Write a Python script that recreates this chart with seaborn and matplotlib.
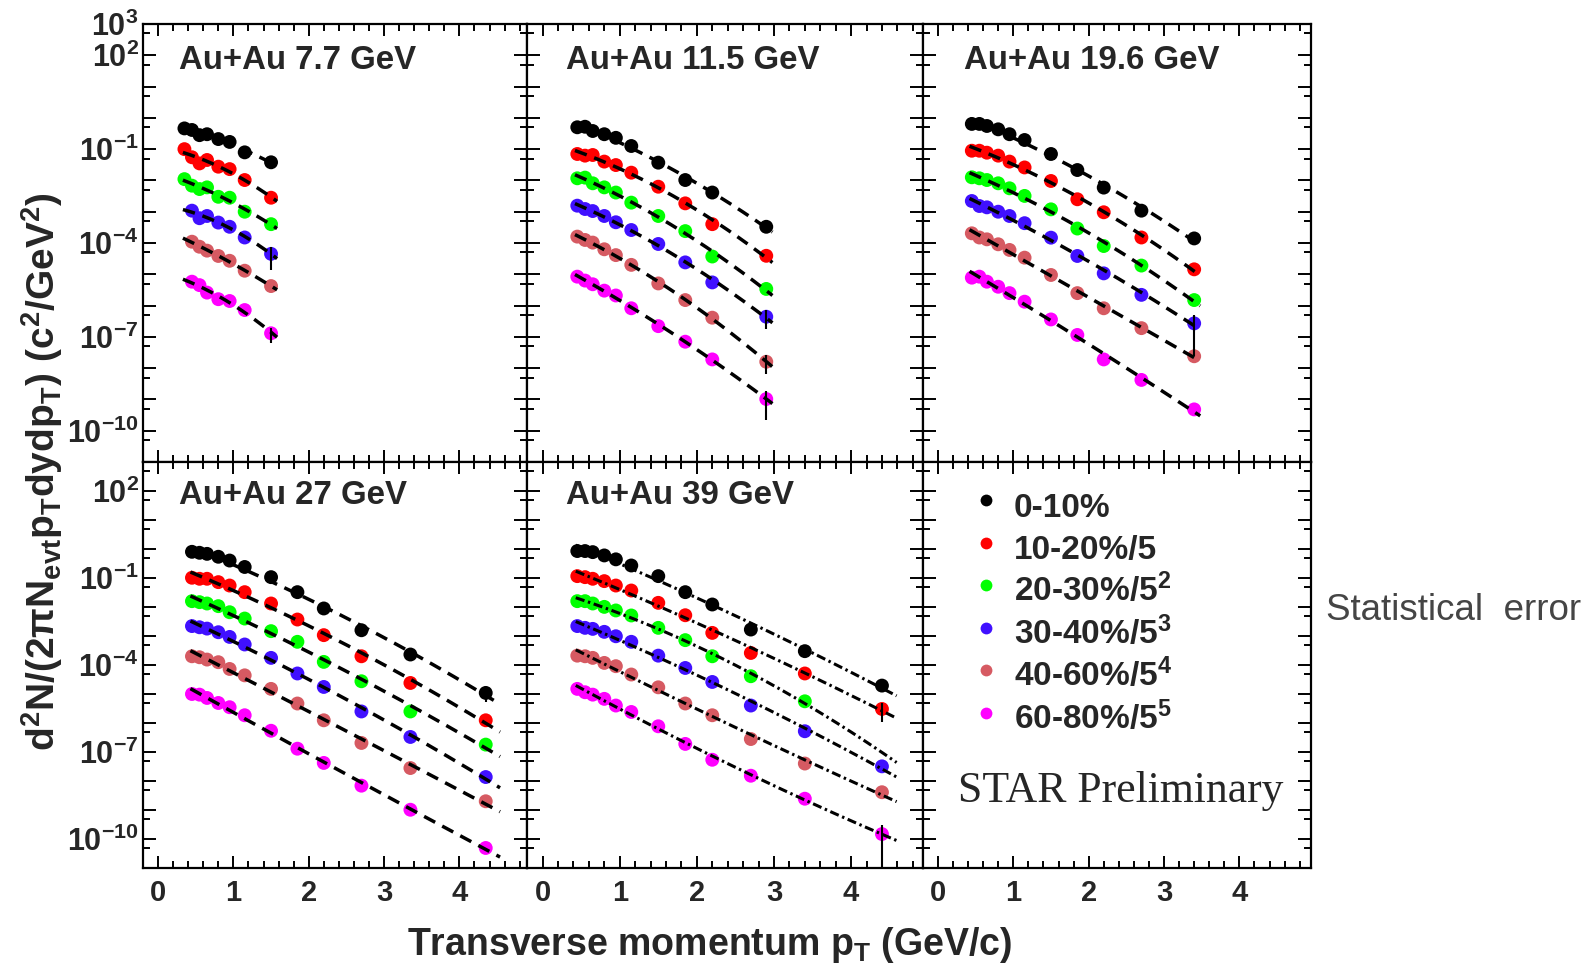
import numpy as np
import pandas as pd
import matplotlib
matplotlib.use("Agg")
import matplotlib.pyplot as plt
import seaborn as sns
from matplotlib.ticker import LogLocator, MultipleLocator, FuncFormatter
from matplotlib.lines import Line2D
from matplotlib import font_manager

# ---------------- data ----------------
ENERGIES = ["7.7", "11.5", "19.6", "27", "39"]
CENT_LABELS = ["0-10%", "10-20%/5", "20-30%/5$^{2}$", "30-40%/5$^{3}$",
               "40-60%/5$^{4}$", "60-80%/5$^{5}$"]
COLORS = ["#000000", "#ff0000", "#00ff00", "#4010ff", "#d65a62", "#ff00ff"]
nan = np.nan

PT_7 = [0.35, 0.45, 0.55, 0.65, 0.8, 0.95, 1.15, 1.5]
Y_7 = [
    [4.6e-1, 4.1e-1, 2.8e-1, 3.0e-1, 2.1e-1, 1.7e-1, 7.9e-2, 3.8e-2],
    [1.0e-1, 5.5e-2, 3.5e-2, 4.5e-2, 2.75e-2, 2.3e-2, 1.03e-2, 2.8e-3],
    [1.1e-2, 6.8e-3, 5.3e-3, 6.0e-3, 3.0e-3, 2.8e-3, 1.0e-3, 4.0e-4],
    [nan, 1.08e-3, 6.2e-4, 7.3e-4, 4.5e-4, 3.3e-4, 1.5e-4, 4.5e-5],
    [nan, 1.1e-4, 7.6e-5, 5.7e-5, 3.85e-5, 2.7e-5, 1.3e-5, 4.2e-6],
    [nan, 5.8e-6, 4.5e-6, 2.6e-6, 1.6e-6, 1.4e-6, 7.2e-7, 1.3e-7],
]

PT_11 = [0.45, 0.55, 0.65, 0.8, 0.95, 1.15, 1.5, 1.85, 2.2, 2.9]
Y_11 = [
    [5.0e-1, 5.2e-1, 3.8e-1, 3.0e-1, 2.3e-1, 1.26e-1, 3.7e-2, 1.03e-2, 4.1e-3, 3.3e-4],
    [7.0e-2, 6.2e-2, 6.5e-2, 4.0e-2, 3.1e-2, 1.77e-2, 6.3e-3, 1.85e-3, 4.0e-4, 3.9e-5],
    [1.17e-2, 1.23e-2, 8.1e-3, 6.0e-3, 4.1e-3, 1.95e-3, 7.3e-4, 2.4e-4, 3.7e-5, 3.4e-6],
    [1.56e-3, 1.22e-3, 1.05e-3, 7.3e-4, 4.6e-4, 2.6e-4, 9.3e-5, 2.4e-5, 5.5e-6, 4.4e-7],
    [1.6e-4, 1.25e-4, 1.03e-4, 6.3e-5, 4.1e-5, 2.0e-5, 5.1e-6, 1.5e-6, 4.1e-7, 1.6e-8],
    [8.4e-6, 6.3e-6, 4.8e-6, 3.0e-6, 2.1e-6, 8.2e-7, 2.2e-7, 7.0e-8, 1.9e-8, 1.03e-9],
]

PT_19 = [0.45, 0.55, 0.65, 0.8, 0.95, 1.15, 1.5, 1.85, 2.2, 2.7, 3.4]
Y_19 = [
    [6.4e-1, 6.4e-1, 5.5e-1, 4.3e-1, 3.0e-1, 1.96e-1, 7.0e-2, 2.15e-2, 5.9e-3, 1.08e-3, 1.4e-4],
    [8.9e-2, 8.9e-2, 7.7e-2, 6.2e-2, 4.0e-2, 2.6e-2, 9.6e-3, 2.5e-3, 9.6e-4, 1.5e-4, 1.44e-5],
    [1.26e-2, 1.17e-2, 1.03e-2, 8.1e-3, 5.6e-3, 3.2e-3, 1.19e-3, 2.9e-4, 8.0e-5, 1.9e-5, 1.5e-6],
    [2.2e-3, 1.52e-3, 1.38e-3, 1.0e-3, 7.3e-4, 4.3e-4, 1.48e-4, 3.85e-5, 1.07e-5, 2.2e-6, 2.7e-7],
    [2.04e-4, 1.5e-4, 1.31e-4, 9.1e-5, 6.0e-5, 3.4e-5, 9.5e-6, 2.5e-6, 8.2e-7, 1.9e-7, 2.4e-8],
    [7.8e-6, 8.4e-6, 5.8e-6, 4.0e-6, 2.5e-6, 1.33e-6, 3.6e-7, 1.15e-7, 1.9e-8, 4.2e-9, 4.8e-10],
]

PT_27 = [0.45, 0.55, 0.65, 0.8, 0.95, 1.15, 1.5, 1.85, 2.2, 2.7, 3.35, 4.35]
Y_27 = [
    [8.0e-1, 7.4e-1, 6.8e-1, 5.4e-1, 4.0e-1, 2.4e-1, 1.07e-1, 3.25e-2, 8.9e-3, 1.58e-3, 2.3e-4, 1.09e-5],
    [1.02e-1, 9.4e-2, 9.4e-2, 7.2e-2, 5.5e-2, 3.25e-2, 1.32e-2, 3.7e-3, 1.07e-3, 2.0e-4, 2.4e-5, 1.24e-6],
    [1.59e-2, 1.47e-2, 1.32e-2, 1.07e-2, 6.6e-3, 4.0e-3, 1.47e-3, 6.3e-4, 1.28e-4, 2.75e-5, 2.5e-6, 1.8e-7],
    [2.2e-3, 2.0e-3, 1.8e-3, 1.35e-3, 9.3e-4, 5.1e-4, 1.76e-4, 5.1e-5, 1.75e-5, 2.5e-6, 3.3e-7, 1.37e-8],
    [2.0e-4, 1.85e-4, 1.54e-4, 1.25e-4, 7.3e-5, 4.4e-5, 1.5e-5, 4.7e-6, 1.24e-6, 2.05e-7, 2.8e-8, 2.0e-9],
    [1.0e-5, 9.5e-6, 7.3e-6, 4.9e-6, 3.5e-6, 1.85e-6, 5.4e-7, 1.3e-7, 4.2e-8, 6.9e-9, 1.02e-9, 4.9e-11],
]

PT_39 = [0.45, 0.55, 0.65, 0.8, 0.95, 1.15, 1.5, 1.85, 2.2, 2.7, 3.4, 4.4]
Y_39 = [
    [8.5e-1, 8.5e-1, 7.8e-1, 6.0e-1, 4.4e-1, 2.7e-1, 1.16e-1, 3.25e-2, 1.22e-2, 1.67e-3, 3.0e-4, 1.95e-5],
    [1.16e-1, 1.07e-1, 9.4e-2, 7.8e-2, 5.5e-2, 3.7e-2, 1.39e-2, 5.2e-3, 1.28e-3, 2.6e-4, 5.1e-5, 3.05e-6],
    [1.59e-2, 1.59e-2, 1.32e-2, 1.01e-2, 7.6e-3, 5.1e-3, 1.91e-3, 7.2e-4, 2.0e-4, 4.1e-5, 5.6e-6, nan],
    [2.2e-3, 1.91e-3, 1.76e-3, 1.39e-3, 9.8e-4, 6.3e-4, 2.1e-4, 7.9e-5, 2.6e-5, 4.0e-6, 5.2e-7, 3.2e-8],
    [2.1e-4, 2.0e-4, 1.76e-4, 1.18e-4, 9.1e-5, 4.7e-5, 1.7e-5, 4.7e-6, 1.85e-6, 2.8e-7, 4.0e-8, 4.1e-9],
    [1.5e-5, 1.15e-5, 9.5e-6, 6.8e-6, 4.0e-6, 2.4e-6, 7.7e-7, 1.9e-7, 5.4e-8, 1.52e-8, 2.45e-9, 1.48e-10],
]

PANEL_PT = [PT_7, PT_11, PT_19, PT_27, PT_39]
PANEL_Y = [Y_7, Y_11, Y_19, Y_27, Y_39]

# fit ranges (pT) of the dashed curves
FIT_START = [0.33, 0.42, 0.42, 0.43, 0.43]
FIT_END = [1.58, 2.98, 3.48, 4.54, 4.59]

# statistical errors shown: (panel, centrality, point index, relative error)
ERR_PANEL = [0, 0, 1, 1, 1, 2, 3, 4, 4]
ERR_CENT = [3, 5, 3, 4, 5, 3, 0, 1, 5]
ERR_POINT = [7, 7, 9, 9, 9, 10, 11, 11, 11]
ERR_REL = [0.69, 0.51, 0.6, 0.6, 0.79, 0.91, 0.5, 0.65, 0.9999]

YLABEL_EXP_TOP = [3, 2, -1, -4, -7, -10]
YLABEL_EXP_BOTTOM = [2, -1, -4, -7, -10]

# ---------------- style ----------------
sns.set_theme(style="ticks")
plt.rcParams["font.family"] = ["Liberation Sans", "DejaVu Sans"]
plt.rcParams["font.weight"] = "bold"
plt.rcParams["mathtext.fontset"] = "custom"
plt.rcParams["mathtext.rm"] = "Liberation Sans:bold"
plt.rcParams["mathtext.it"] = "Liberation Sans:bold"
plt.rcParams["mathtext.bf"] = "Liberation Sans:bold"
plt.rcParams["mathtext.default"] = "bf"

try:
    font_manager.findfont(font_manager.FontProperties(family="Liberation Sans Narrow"),
                          fallback_to_default=False)
    NARROW = "Liberation Sans Narrow"
    NARROW_SIZE = 32
except Exception:
    NARROW = "Liberation Sans"
    NARROW_SIZE = 26.5

W, H = 1593, 972
fig = plt.figure(figsize=(W / 100, H / 100), dpi=100)
gs = fig.add_gridspec(2, 3, left=143 / W, right=1311 / W, top=1 - 24 / H, bottom=1 - 868 / H,
                      wspace=0, hspace=0, width_ratios=[384, 395.5, 388], height_ratios=[438, 406])
XLIMS = [(-0.2, 4.9), (-0.2, 4.93), (-0.2, 4.95)]
TITLE_X = [0.094, 0.099, 0.106, 0.094, 0.099]

axes = []
for r in range(2):
    for c in range(3):
        ax = fig.add_subplot(gs[r, c])
        axes.append(ax)

# ---------------- panels ----------------
for p in range(5):
    ax = axes[p]
    pt = np.array(PANEL_PT[p])
    rows = []
    for k, ys in enumerate(PANEL_Y[p]):
        for x, y in zip(pt, ys):
            if np.isfinite(y):
                rows.append({"pt": x, "y": y, "cent": CENT_LABELS[k]})
    df = pd.DataFrame(rows)
    sns.scatterplot(data=df, x="pt", y="y", hue="cent", hue_order=CENT_LABELS,
                    palette=COLORS, s=100, edgecolor="none", linewidth=0,
                    legend=False, ax=ax, zorder=2)

    # statistical error bars
    for i in range(len(ERR_PANEL)):
        if ERR_PANEL[i] != p:
            continue
        yv = PANEL_Y[p][ERR_CENT[i]][ERR_POINT[i]]
        xv = pt[ERR_POINT[i]]
        rel = ERR_REL[i]
        ax.errorbar([xv], [yv], yerr=[[yv * rel], [yv * rel]], fmt="none",
                    ecolor="black", elinewidth=1.5, capsize=0, zorder=2.5)

    # fitted curves
    if p < 4:
        ls = (0, (3.6, 2.3))
        lw = 2.5
    else:
        ls = (0, (3.0, 1.2, 0.8, 1.2))
        lw = 2.2
    for k, ys in enumerate(PANEL_Y[p]):
        ys = np.array(ys, dtype=float)
        m = np.isfinite(ys)
        coef = np.polyfit(pt[m], np.log10(ys[m]), 2)
        xs = np.linspace(FIT_START[p], FIT_END[p], 200)
        ax.plot(xs, 10 ** np.polyval(coef, xs), color="black", lw=lw, linestyle=ls,
                zorder=3)

    ax.text(TITLE_X[p], 0.897, "Au+Au %s GeV" % ENERGIES[p], transform=ax.transAxes,
            fontsize=23.8, fontweight="bold", ha="left", va="baseline")

# ---------------- axes styling ----------------
for idx, ax in enumerate(axes):
    r, c = divmod(idx, 3)
    ax.set_yscale("log")
    ax.set_ylim(1e-11, 1e3)
    ax.set_xlim(*XLIMS[c])
    ax.yaxis.set_major_locator(LogLocator(base=10, numticks=60))
    ax.yaxis.set_minor_locator(LogLocator(base=10, subs=(5.0,), numticks=60))
    ax.xaxis.set_major_locator(MultipleLocator(1))
    ax.xaxis.set_minor_locator(MultipleLocator(0.2))
    exps = YLABEL_EXP_TOP if r == 0 else YLABEL_EXP_BOTTOM

    def _fmt(v, pos, exps=exps):
        e = int(round(np.log10(v)))
        return r"$10^{%d}$" % e if e in exps else ""
    ax.yaxis.set_major_formatter(FuncFormatter(_fmt))
    ax.tick_params(axis="both", which="both", direction="in", top=True, right=True,
                   width=1.4, color="black")
    ax.tick_params(axis="y", which="major", length=9.5, labelsize=22, pad=3)
    ax.tick_params(axis="y", which="minor", length=5)
    ax.tick_params(axis="x", which="major", length=8.5, labelsize=21, pad=8)
    ax.tick_params(axis="x", which="minor", length=5)
    if c != 0:
        ax.tick_params(axis="y", which="both", labelleft=False)
    if r == 0:
        ax.tick_params(axis="x", which="both", labelbottom=False)
    for sp in ax.spines.values():
        sp.set_linewidth(1.6)
        sp.set_color("black")
        sp.set_visible(True)
    ax.set_facecolor("white")
    ax.set_xlabel("")
    ax.set_ylabel("")

# ---------------- legend panel ----------------
ax6 = axes[5]
handles = [Line2D([], [], marker="o", linestyle="none", markersize=8.5,
                  markerfacecolor=col, markeredgecolor="none") for col in COLORS]
ax6.legend(handles, CENT_LABELS, loc="upper left", bbox_to_anchor=(0.119, 0.945),
           frameon=False, borderpad=0, borderaxespad=0, handlelength=1.0,
           handleheight=1.585, labelspacing=0, handletextpad=0.34,
           prop={"weight": "bold", "size": 24})
ax6.text(0.09, 0.163, "STAR Preliminary", transform=ax6.transAxes,
         fontsize=31.5, family="Liberation Serif", fontweight="normal",
         ha="left", va="baseline")

# ---------------- figure labels ----------------
fig.text(710 / W, 1 - 955 / H, r"Transverse momentum p$_{T}$ (GeV/c)",
         fontsize=27, fontweight="bold", ha="center", va="baseline")
fig.text(42 / W, 1 - 472 / H,
         r"$d^{2}N/(2\pi N_{evt}p_{T}dydp_{T})\ (c^{2}/GeV^{2})$",
         rotation=90, fontsize=28, ha="center", va="center")
fig.text(1326 / W, 1 - 620 / H, "Statistical  error", family=NARROW,
         fontsize=NARROW_SIZE, fontweight="normal", color="#454545",
         ha="left", va="baseline")

fig.savefig("out.png", dpi=100, facecolor="white")
